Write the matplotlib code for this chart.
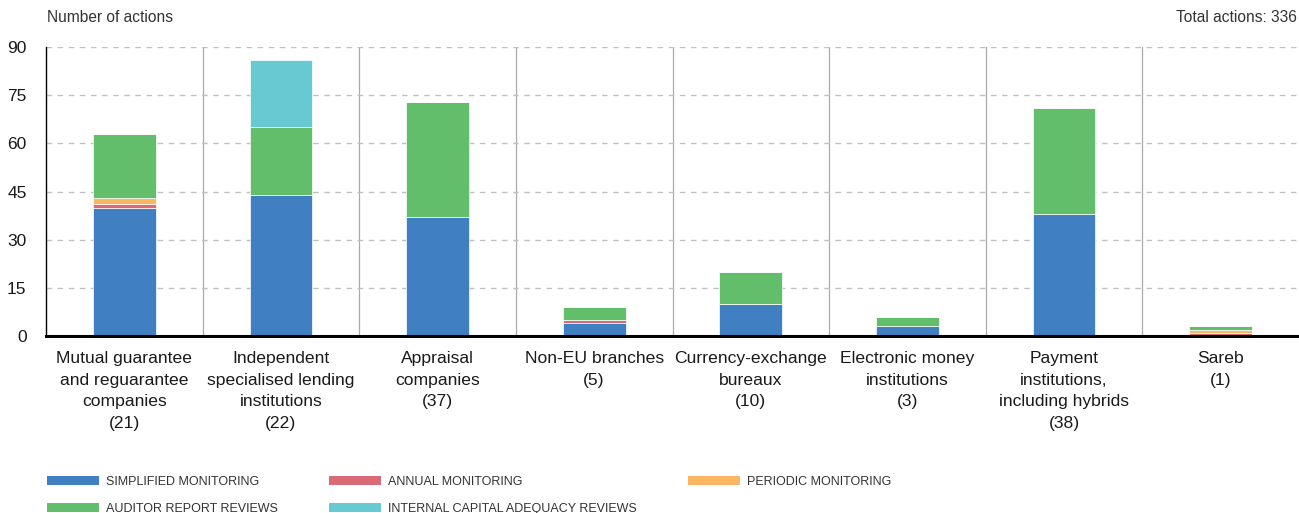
import numpy as np
import matplotlib.pyplot as plt
from matplotlib.patches import Patch

categories = ['Mutual guarantee\nand reguarantee\ncompanies\n(21)',
              'Independent\nspecialised lending\ninstitutions\n(22)',
              'Appraisal\ncompanies\n(37)',
              'Non-EU branches\n(5)',
              'Currency-exchange\nbureaux\n(10)',
              'Electronic money\ninstitutions\n(3)',
              'Payment\ninstitutions,\nincluding hybrids\n(38)',
              'Sareb\n(1)']

simplified = [40, 44, 37, 4, 10, 3, 38, 0]
annual = [1, 0, 0, 1, 0, 0, 0, 1]
periodic = [2, 0, 0, 0, 0, 0, 0, 1]
auditor = [20, 21, 36, 4, 10, 3, 33, 1]
internal = [0, 21, 0, 0, 0, 0, 0, 0]

series = [('SIMPLIFIED MONITORING', simplified, '#3F7FC2'),
          ('ANNUAL MONITORING', annual, '#D96B78'),
          ('PERIODIC MONITORING', periodic, '#FBB663'),
          ('AUDITOR REPORT REVIEWS', auditor, '#62BE6A'),
          ('INTERNAL CAPITAL ADEQUACY REVIEWS', internal, '#67CAD3')]

yticks = [0, 15, 30, 45, 60, 75, 90]

plt.rcParams['font.family'] = ['Liberation Sans', 'DejaVu Sans']

fig = plt.figure(figsize=(12.99, 5.13), dpi=100)
ax = fig.add_axes([46 / 1299, 1 - 336 / 513, 1253 / 1299, 289 / 513])

x = np.arange(len(categories))
bottom = np.zeros(len(categories))
for name, vals, col in series:
    vals = np.array(vals, dtype=float)
    ax.bar(x, vals, 0.4, bottom=bottom, color=col, edgecolor='white',
           linewidth=0.5, zorder=3, label=name)
    bottom += vals

ax.set_xlim(-0.5, len(categories) - 0.5)
ax.set_ylim(0, 90)
ax.set_yticks(yticks)
ax.set_xticks(x)
ax.set_xticklabels([])
ax.tick_params(axis='x', length=0)
ax.tick_params(axis='y', length=0, pad=14, labelsize=12.5, labelcolor='#1a1a1a')

# category labels with wider line spacing
for xi, cat in zip(x, categories):
    ax.annotate(cat, xy=(xi, 0), xycoords=('data', 'axes fraction'),
                xytext=(0, -15), textcoords='offset pixels',
                ha='center', va='top', fontsize=12.6, color='#1a1a1a',
                linespacing=1.56, annotation_clip=False)

ax.yaxis.grid(True, linestyle=(0, (4, 4)), color='#C0C0C0', linewidth=1, zorder=0)
for sep in x[:-1] + 0.5:
    ax.axvline(sep, color='#AAAAAA', linewidth=0.9, zorder=1)

for s in ['top', 'right']:
    ax.spines[s].set_visible(False)
ax.spines['left'].set_linewidth(1)
ax.spines['bottom'].set_linewidth(2.2)
ax.spines['bottom'].set_zorder(4)

fig.text(47 / 1299, 1 - 18 / 513, 'Number of actions', fontsize=11.2, color='#333333',
         va='center', ha='left')
fig.text(1297 / 1299, 1 - 18 / 513, 'Total actions: 336', fontsize=11.2, color='#333333',
         va='center', ha='right')

order = [0, 3, 1, 4, 2]
handles = [Patch(facecolor=series[i][2], edgecolor='none') for i in order]
labels = [series[i][0] for i in order]
fig.legend(handles, labels, ncol=3, loc='upper left',
           bbox_to_anchor=(47 / 1299, 1 - 476 / 513), frameon=False,
           borderpad=0, borderaxespad=0,
           handlelength=4.16, handleheight=0.64, handletextpad=0.56,
           columnspacing=4.1, labelspacing=1.2,
           prop={'size': 9}, labelcolor='#333333')

fig.savefig('out.png', dpi=100)
